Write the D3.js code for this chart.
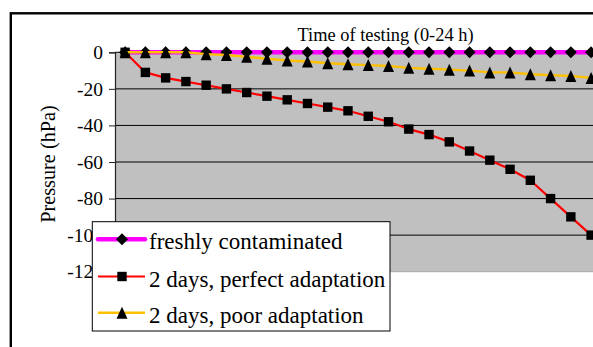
<!DOCTYPE html>
<html>
<head>
<meta charset="utf-8">
<script src="https://cdn.jsdelivr.net/npm/d3@7"></script>
<style>
  html, body { margin: 0; padding: 0; background: #fff; overflow: hidden; }
  svg { display: block; }
</style>
</head>
<body>
<svg id="chart" width="593" height="347"></svg>
<script>
// Hours of testing shown on the category axis
const hours = [0,1,2,3,4,5,6,7,8,9,10,11,12,13,14,15,16,17,18,19,20,21,22,23];

// Pressure readings (hPa) per series
const freshlyContaminated = [0,0,0,0,0,0,0,0,0,0,0,0,0,0,0,0,0,0,0,0,0,0,0,0];
const perfectAdaptation  = [0,-11,-14,-16,-18,-20,-22,-24,-26,-28,-30,-32,-35,-38,-42,-45,-49,-54,-59,-64,-70,-80,-90,-100];
const poorAdaptation     = [0,0,0,0,-1,-1.5,-2.5,-3.5,-4.5,-5,-6,-6.5,-7,-7.5,-8.5,-9,-9.5,-10,-11,-11,-12,-12.5,-13,-14];

// Value axis ticks
const yTicks = [0,-20,-40,-60,-80,-100,-120];

const seriesNames = ["freshly contaminated", "2 days, perfect adaptation", "2 days, poor adaptation"];

const SERIF = "'Liberation Serif', 'Times New Roman', Times, serif";

const series = [
  { name: seriesNames[0], values: freshlyContaminated, color: "#FF00FF", width: 4.5, marker: "diamond" },
  { name: seriesNames[1], values: perfectAdaptation,  color: "#FF0000", width: 2.2, marker: "square" },
  { name: seriesNames[2], values: poorAdaptation,     color: "#FFC000", width: 2.4, marker: "triangle" }
];

const svg = d3.select("#chart");

const plot = { left: 115, top: 52.3, bottom: 271.7, band: 20.26 };
plot.right = plot.left + plot.band * hours.length;

const x = d3.scalePoint()
  .domain(hours)
  .range([plot.left + plot.band / 2, plot.right - plot.band / 2]);

const y = d3.scaleLinear()
  .domain([-120, 0])
  .range([plot.bottom, plot.top]);

// Outer chart frame
svg.append("rect")
  .attr("x", 10.8).attr("y", 13.3)
  .attr("width", 700).attr("height", 400)
  .attr("fill", "none").attr("stroke", "#000").attr("stroke-width", 2.4);

// Plot area background
svg.append("rect")
  .attr("x", plot.left).attr("y", plot.top)
  .attr("width", plot.right - plot.left).attr("height", plot.bottom - plot.top)
  .attr("fill", "#C0C0C0");

// Bottom edge of the plot area
svg.append("line")
  .attr("x1", plot.left).attr("x2", plot.right)
  .attr("y1", plot.bottom).attr("y2", plot.bottom)
  .attr("stroke", "#A8A8A8").attr("stroke-width", 1);

// Horizontal gridlines
svg.append("g")
  .selectAll("line")
  .data(yTicks.filter(d => d > -120))
  .join("line")
  .attr("x1", plot.left).attr("x2", plot.right)
  .attr("y1", d => y(d)).attr("y2", d => y(d))
  .attr("stroke", "#000").attr("stroke-width", 1);

// Value axis
const yAxis = d3.axisLeft(y)
  .tickValues(yTicks)
  .tickFormat(d => String(d))
  .tickSize(6)
  .tickPadding(6);

const yAxisG = svg.append("g")
  .attr("transform", `translate(${plot.left},0)`)
  .call(yAxis);
yAxisG.attr("font-family", null).attr("font-size", null);
yAxisG.select(".domain").attr("stroke", "#222").attr("stroke-width", 1.2);
yAxisG.selectAll(".tick line").attr("stroke", "#222");
yAxisG.selectAll(".tick text")
  .style("font-family", SERIF)
  .style("font-size", "19.5px")
  .attr("fill", "#000");

// Axis titles
svg.append("text")
  .attr("x", 385.5).attr("y", 41)
  .attr("text-anchor", "middle")
  .style("font-family", SERIF)
  .style("font-size", "18.4px")
  .text("Time of testing (0-24 h)");

svg.append("text")
  .attr("transform", "translate(55,164) rotate(-90)")
  .attr("text-anchor", "middle")
  .style("font-family", SERIF)
  .style("font-size", "20.3px")
  .text("Pressure (hPa)");

// Marker shapes, centred on their data point
const shapes = {
  diamond: "M0,-6L6,0L0,6L-6,0Z",
  square: "M-4.7,-4.7H4.7V4.7H-4.7Z",
  triangle: "M0,-6L5.5,6L-5.5,6Z"
};

const line = d3.line()
  .x((d, i) => x(hours[i]))
  .y(d => y(d));

const seriesG = svg.append("g");
series.forEach(s => {
  const g = seriesG.append("g");
  g.append("path")
    .attr("d", line(s.values))
    .attr("fill", "none")
    .attr("stroke", s.color)
    .attr("stroke-width", s.width)
    .attr("stroke-linejoin", "round");
  g.selectAll("path.mk")
    .data(s.values)
    .join("path")
    .attr("class", "mk")
    .attr("d", shapes[s.marker])
    .attr("transform", (d, i) => `translate(${x(hours[i])},${y(d)})`)
    .attr("fill", "#000");
});

// Legend
const legend = svg.append("g");
legend.append("rect")
  .attr("x", 92.3).attr("y", 221.7)
  .attr("width", 297.7).attr("height", 109.3)
  .attr("fill", "#fff").attr("stroke", "#000").attr("stroke-width", 1);

const rowY = [239.3, 276.5, 312.8];
series.forEach((s, i) => {
  const g = legend.append("g");
  g.append("line")
    .attr("x1", 98).attr("x2", 145)
    .attr("y1", rowY[i]).attr("y2", rowY[i])
    .attr("stroke", s.color).attr("stroke-width", s.width)
    .attr("stroke-linecap", s.marker === "diamond" ? "round" : "butt");
  g.append("path")
    .attr("d", shapes[s.marker])
    .attr("transform", `translate(122,${rowY[i]})`)
    .attr("fill", "#000");
  g.append("text")
    .attr("x", 149).attr("y", rowY[i] + 10)
    .style("font-family", SERIF)
    .style("font-size", "23px")
    .text(s.name);
});
</script>
</body>
</html>
